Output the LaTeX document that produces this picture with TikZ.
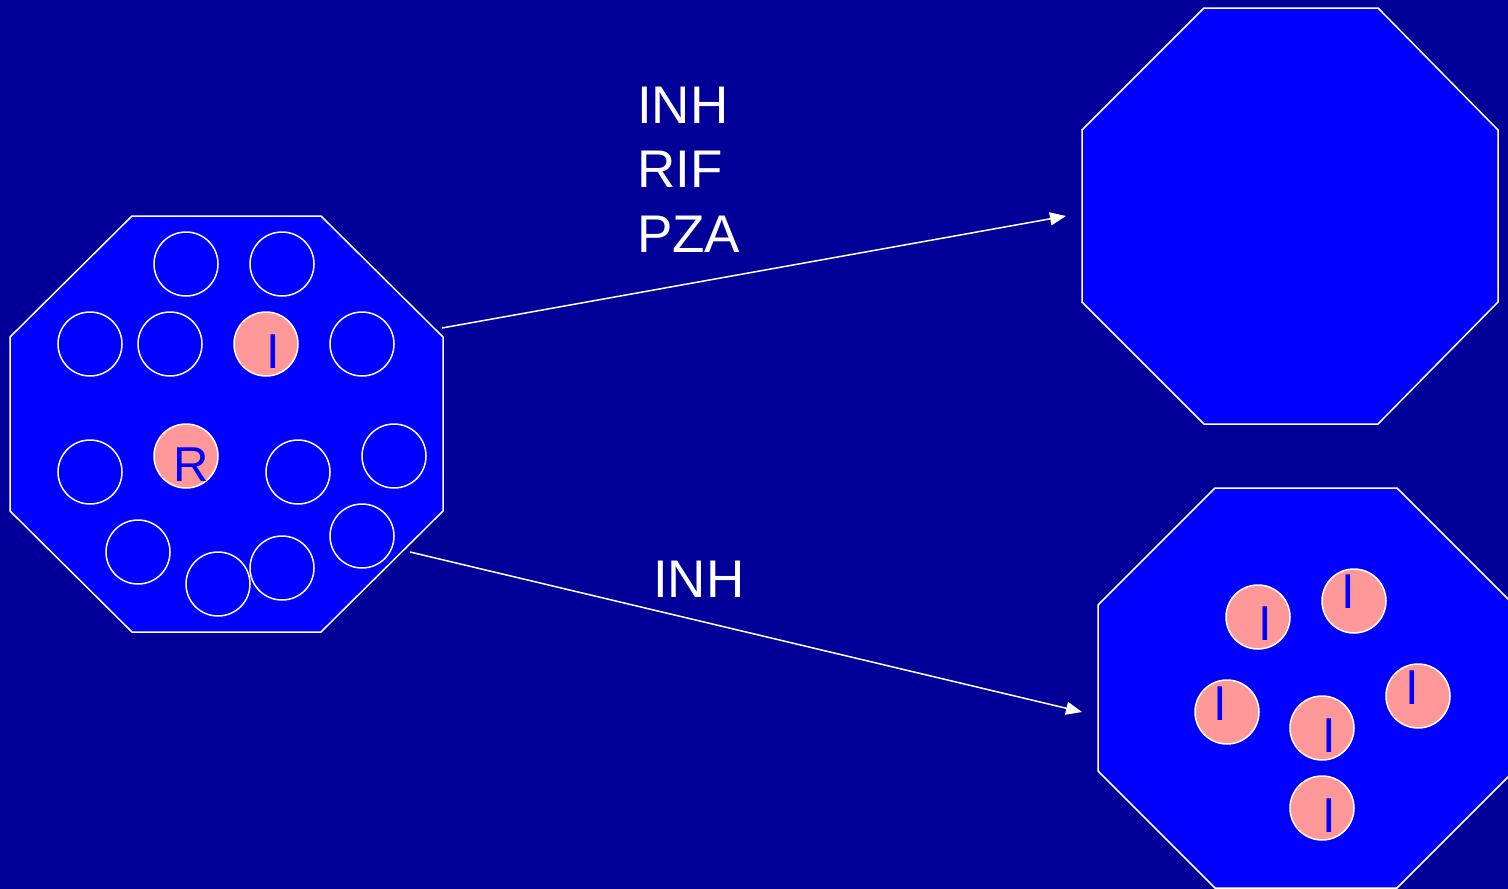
\documentclass[tikz,border=0pt]{standalone}
\usepackage{fontspec}
\setmainfont{Liberation Sans}
\usetikzlibrary{arrows.meta}
\definecolor{bgnavy}{HTML}{000099}
\definecolor{cellblue}{HTML}{0000FF}
\definecolor{salmon}{HTML}{FF9999}
\begin{document}
\begin{tikzpicture}[x=1pt,y=-1pt,
  octa/.style={draw=white, fill=cellblue, line width=1.5pt, line join=miter},
  bug/.style={circle, draw=white, line width=1.5pt, minimum size=64pt, inner sep=0pt},
  hit/.style={bug, fill=salmon},
  tag/.style={inner sep=0pt, text=cellblue, font=\fontsize{49}{49}\selectfont},
  drug/.style={inner sep=0pt, anchor=base west, text=white, font=\fontsize{53}{64}\selectfont},
  flow/.style={draw=white, line width=1.5pt, -{Triangle[length=16pt,width=13pt]}}]
% background
\fill[bgnavy] (0,0) rectangle (1508,889);
\useasboundingbox (0,0) rectangle (1508,889);

% cells
\draw[octa] (132,216) -- (321,216) -- (443,337) -- (443,511) -- (321,632)
  -- (132,632) -- (10,511) -- (10,337) -- cycle;
\draw[octa] (1204,8) -- (1378,8) -- (1498,130) -- (1498,302) -- (1378,424)
  -- (1204,424) -- (1082,302) -- (1082,130) -- cycle;
\draw[octa] (1215,488) -- (1397,488) -- (1514,605) -- (1514,771) -- (1397,888)
  -- (1215,888) -- (1098,771) -- (1098,605) -- cycle;

% bacilli in the untreated cell
\node[bug] (a1) at (186,264) {};
\node[bug] (a2) at (282,264) {};
\node[bug] (a3) at (90,344) {};
\node[bug] (a4) at (170,344) {};
\node[hit] (a5) at (266,344) {};
\node[bug] (a6) at (362,344) {};
\node[bug] (a7) at (90,472) {};
\node[hit] (a8) at (186,456) {};
\node[bug] (a9) at (298,472) {};
\node[bug] (a10) at (394,456) {};
\node[bug] (a11) at (138,552) {};
\node[bug] (a12) at (218,584) {};
\node[bug] (a13) at (282,568) {};
\node[bug] (a14) at (362,536) {};
\node[tag] (ta5) at (273,351.5) {I};
\node[tag] (ta8) at (191,464.5) {R};

% bacilli surviving isoniazid alone
\node[hit] (b1) at (1258,617) {};
\node[hit] (b2) at (1354,601) {};
\node[hit] (b3) at (1227,712) {};
\node[hit] (b4) at (1322,728) {};
\node[hit] (b5) at (1418,696) {};
\node[hit] (b6) at (1322,808) {};
\node[tag] (tb1) at (1265,624) {I};
\node[tag] (tb2) at (1348,592) {I};
\node[tag] (tb3) at (1220,703.5) {I};
\node[tag] (tb4) at (1329,735.5) {I};
\node[tag] (tb5) at (1412,687.5) {I};
\node[tag] (tb6) at (1329,815.5) {I};

% treatment arrows
\coordinate (s1) at (442,328);
\coordinate (e1) at (1066,216);
\coordinate (s2) at (410,552);
\coordinate (e2) at (1082,712);
\draw[flow] (s1) -- (e1);
\draw[flow] (s2) -- (e2);

% regimen labels
\node[drug] (d1) at (637,123) {INH};
\node[drug] (d2) at (637,187.5) {RIF};
\node[drug] (d3) at (637,252) {PZA};
\node[drug] (d4) at (653,597.5) {INH};
\end{tikzpicture}
\end{document}
